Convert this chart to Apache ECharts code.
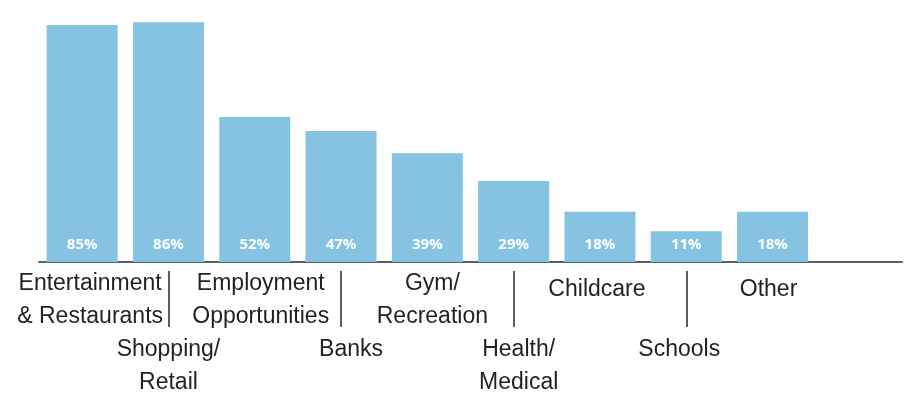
<!DOCTYPE html>
<html>
<head>
<meta charset="utf-8">
<style>
  html, body { margin: 0; padding: 0; background: #ffffff; }
  #chart { width: 911px; height: 393px; }
</style>
<script src="https://cdn.jsdelivr.net/npm/echarts@6/dist/echarts.min.js"></script>
</head>
<body>
<div id="chart"></div>
<script>
// Amenities people want nearby (share of respondents, %)
const categories = [
  'Entertainment\n& Restaurants',
  'Shopping/\nRetail',
  'Employment\nOpportunities',
  'Banks',
  'Gym/\nRecreation',
  'Health/\nMedical',
  'Childcare',
  'Schools',
  'Other',
  ''
];
const shares = [85, 86, 52, 47, 39, 29, 18, 11, 18, null];

const barColor = '#86c3e2';
const textColor = '#231f20';
const ruleColor = '#5a6069';

// horizontal nudge of each label (px, positive = right)
const labelNudge = [8, 0, 6, 10, 5, 5, -3, -7, -4, 0];

const richStyles = {};
labelNudge.forEach(function (n, i) {
  const pad = [0, n > 0 ? 0 : -2 * n, 0, n > 0 ? 2 * n : 0];
  richStyles['l' + i] = { padding: pad, lineHeight: 33 };
  richStyles['s' + i] = { padding: pad, lineHeight: 45 };
});

const chart = echarts.init(document.getElementById('chart'), null, { renderer: 'canvas' });

// Every second label sits on a lower row; one-line labels in the top row drop slightly.
function categoryLabel(value, index) {
  if (!value) return '';
  const lines = value.split('\n');
  const lower = index % 2 === 1;
  const key = (!lower && lines.length === 1) ? 's' + index : 'l' + index;
  const body = lines.map(function (t) { return '{' + key + '|' + t + '}'; }).join('\n');
  return lower ? '\n\n' + body : body;
}

chart.setOption({
  backgroundColor: '#ffffff',
  animation: false,
  grid: { left: 39, right: 9, top: 11, bottom: 131, containLabel: false, outerBoundsMode: 'none' },
  xAxis: [
    {
      type: 'category',
      data: categories,
      axisLine: { show: true, lineStyle: { color: ruleColor, width: 2 } },
      axisTick: { show: false },
      axisLabel: {
        interval: 0,
        margin: 5,
        color: textColor,
        fontFamily: 'Liberation Sans',
        fontSize: 23,
        lineHeight: 33,
        formatter: categoryLabel,
        rich: richStyles
      }
    },
    {
      // short vertical rules above the lower-row labels
      type: 'category',
      data: categories,
      position: 'bottom',
      offset: 9,
      axisLine: { show: false },
      axisLabel: { show: false },
      axisTick: {
        show: true,
        alignWithLabel: true,
        length: 56,
        interval: function (index) { return index % 2 === 1 && index < 8; },
        lineStyle: { color: ruleColor, width: 2 }
      }
    }
  ],
  yAxis: {
    type: 'value',
    min: 0,
    max: 90,
    show: false,
    splitLine: { show: false }
  },
  series: [
    {
      type: 'bar',
      data: shares,
      barWidth: 71,
      itemStyle: { color: barColor },
      label: {
        show: true,
        position: 'insideBottom',
        distance: 10,
        color: '#ffffff',
        fontFamily: 'Open Sans',
        fontWeight: 'bold',
        fontSize: 15,
        formatter: function (p) { return p.value == null ? '' : p.value + '%'; }
      }
    }
  ]
});
</script>
</body>
</html>
